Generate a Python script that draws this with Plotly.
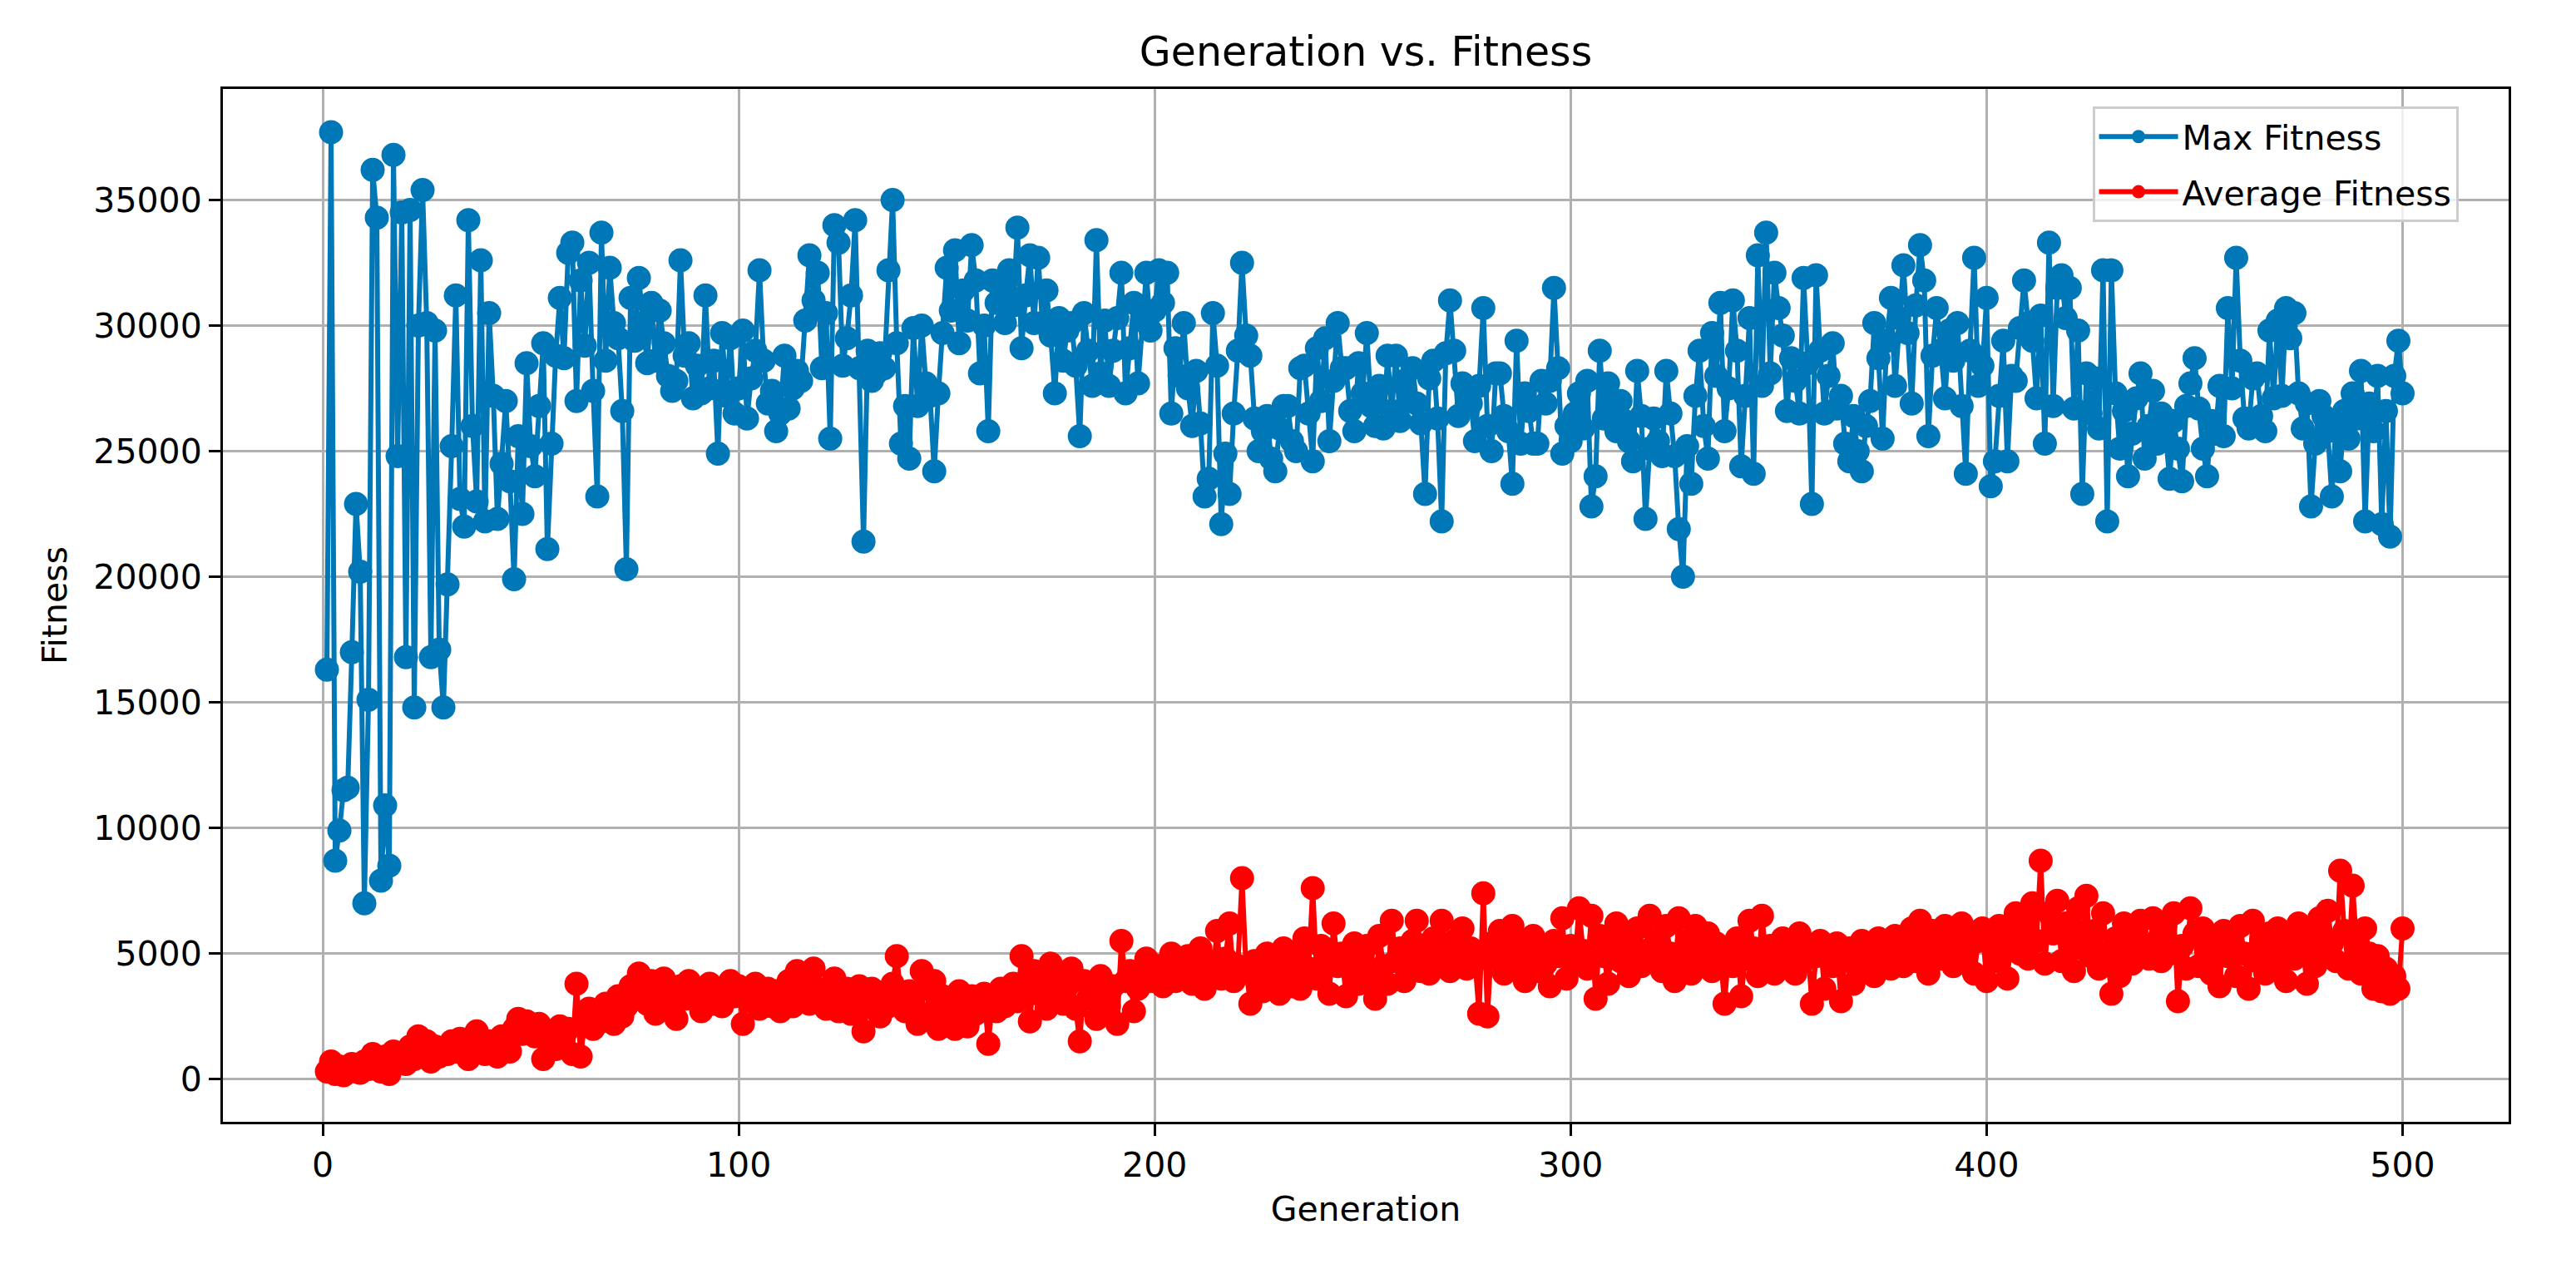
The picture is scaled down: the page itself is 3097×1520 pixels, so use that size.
import plotly.graph_objects as go

max_fitness = [
    16300, 37700, 8700, 9900, 11500, 11600, 17000, 22900, 20200, 7000,
    15100, 36200, 34300, 7900, 10900, 8500, 36800, 24800, 34500, 16800,
    34600, 14800, 30000, 35400, 30100, 16800, 29800, 17100, 14800, 19700,
    25200, 31200, 23100, 22000, 34200, 26000, 23000, 32600, 22200, 30500,
    27200, 22300, 24500, 27000, 23800, 19900, 25600, 22500, 28500, 25200,
    24000, 26800, 29300, 21100, 25300, 28800, 31100, 28700, 32900, 33300,
    27000, 31800, 29200, 32500, 27400, 23200, 33700, 28600, 32300, 30100,
    29500, 26600, 20300, 31100, 29400, 31900, 30100, 28500, 30900, 28600,
    30600, 29300, 28000, 27400, 27800, 32600, 28800, 29300, 27100, 28400,
    27300, 31200, 27500, 28600, 24900, 29700, 27200, 29500, 26500, 27500,
    29800, 26300, 27900, 29000, 32200, 28600, 26900, 27400, 25800, 26500,
    28800, 26700, 27500, 28200, 27800, 30200, 32800, 31000, 32100, 28300,
    30500, 25500, 34000, 33300, 28400, 29500, 31200, 34200, 28300, 21400,
    29000, 27800, 28100, 28900, 28300, 32200, 35000, 29300, 25300, 26800,
    24700, 29900, 26800, 30000, 27700, 27200, 24200, 27300, 29700, 32300,
    30600, 33000, 29300, 31400, 30200, 33200, 31800, 28100, 30000, 25800,
    31800, 30900, 31500, 30100, 32200, 30800, 33900, 29100, 31200, 32800,
    30100, 32700, 30100, 31400, 29600, 27300, 30300, 28600, 29800, 30100,
    28400, 25600, 30500, 29000, 27600, 33400, 28100, 30200, 27600, 29000,
    30300, 32100, 27300, 29100, 30900, 27700, 30200, 32100, 29800, 30600,
    32200, 30900, 32100, 26500, 29100, 28000, 30100, 27500, 26000, 28200,
    26100, 23200, 23900, 30500, 28400, 22100, 24900, 23300, 26500, 29000,
    32500, 29600, 28800, 26300, 25000, 25800, 26400, 24700, 24200, 25900,
    26800, 26800, 25400, 25000, 28300, 28400, 26500, 24600, 29100, 27000,
    29500, 25400, 27800, 30100, 28300, 28300, 26600, 25800, 28500, 27300,
    29700, 26800, 26000, 27600, 25900, 28800, 26600, 28800, 26200, 27800,
    27000, 28300, 26900, 26100, 23300, 27900, 28600, 26300, 22200, 28900,
    31000, 29000, 26400, 27700, 26900, 26900, 25400, 27600, 30700, 26000,
    25000, 28100, 28100, 26400, 25800, 23700, 29400, 25300, 27300, 26600,
    25300, 25300, 27800, 26900, 27800, 31500, 28300, 24900, 26000, 25400,
    26500, 27300, 25900, 27800, 22800, 24000, 29000, 26300, 27700, 26800,
    25800, 27000, 26200, 25400, 24600, 28200, 26400, 22300, 25100, 26300,
    25400, 24800, 28200, 26500, 24800, 21900, 20000, 25200, 23700, 27200,
    29000, 26000, 24700, 29700, 28000, 30900, 25800, 27500, 31000, 29000,
    24400, 27200, 30300, 24100, 32800, 27600, 33700, 28100, 32100, 30700,
    29600, 26600, 28700, 27800, 26500, 31900, 28500, 22900, 32000, 29000,
    26500, 28000, 29300, 26700, 27200, 25300, 24600, 26400, 25000, 24200,
    26000, 27000, 30100, 28700, 25500, 29400, 31100, 27600, 30300, 32400,
    29700, 26900, 30800, 33200, 31800, 25600, 28800, 30700, 29000, 27100,
    29800, 28600, 30100, 26800, 24100, 29000, 32700, 27600, 28400, 31100,
    23600, 24600, 27200, 29400, 24600, 28000, 27800, 29900, 31800, 30100,
    29400, 27100, 30400, 25300, 33300, 26800, 31500, 32000, 30300, 31500,
    26700, 29800, 23300, 28100, 26500, 27900, 25900, 32200, 22200, 32200,
    27300, 25100, 26600, 24000, 25700, 27100, 28100, 24700, 26000, 27400,
    25300, 26500, 25700, 23900, 26200, 25100, 23800, 26800, 27700, 28700,
    26700, 25100, 24000, 26200, 25700, 27600, 25600, 30700, 27500, 32700,
    28600, 26300, 25900, 27900, 28100, 26400, 25800, 29800, 27100, 30200,
    27200, 30700, 29500, 30500, 27300, 25900, 26900, 22800, 25300, 27000,
    26400, 25800, 23200, 26100, 24200, 26600, 25500, 27300, 26300, 28200,
    22200, 26900, 25800, 28000, 22100, 26600, 21600, 28000, 29400, 27300,
]

average_fitness = [
    300, 700, 200, 500, 150, 400, 600, 300, 250, 700,
    400, 1000, 600, 300, 900, 200, 1100, 700, 1000, 600,
    1300, 800, 1700, 1100, 1500, 700, 1300, 900, 1200, 1000,
    1500, 1100, 1600, 1400, 800, 1200, 1900, 1300, 1000, 1500,
    1200, 900, 1700, 1400, 1100, 2000, 2400, 1800, 2300, 2100,
    1700, 2200, 800, 1500, 1900, 1200, 2100, 1700, 2000, 1000,
    3800, 900, 2300, 2800, 2000, 2600, 2300, 3000, 2700, 2200,
    3300, 2500, 2900, 3700, 3200, 4200, 3500, 3000, 3900, 2600,
    3600, 4000, 2900, 3400, 2400, 3700, 3200, 3900, 3600, 3100,
    2700, 3400, 3800, 3000, 3500, 2900, 3600, 3900, 3300, 3700,
    2200, 3400, 3100, 3800, 2800, 3300, 3600, 2900, 3500, 2700,
    3200, 3900, 2900, 4300, 3400, 3700, 3000, 4400, 3600, 3100,
    2800, 3500, 4000, 2700, 3200, 3600, 2600, 3300, 3700, 1900,
    2900, 3600, 3100, 2500, 3400, 2900, 3800, 4900, 3300, 2700,
    3500, 3000, 2200, 4300, 3600, 2600, 3900, 2000, 3300, 2400,
    3100, 2000, 3500, 2800, 2100, 3300, 2600, 3000, 3400, 1400,
    3100, 2700, 3600, 2900, 3300, 3800, 3100, 4900, 3600, 2300,
    4300, 3400, 4000, 2800, 4600, 3600, 4200, 3000, 3700, 4400,
    2800, 1500, 3900, 3200, 3800, 2400, 4100, 3400, 2900, 3700,
    2200, 5500, 3900, 4300, 2700, 3600, 4100, 4800, 3900, 4300,
    4500, 3700, 4300, 5000, 3900, 4600, 4100, 4900, 3800, 4400,
    5200, 3600, 4700, 4200, 5900, 4000, 4800, 6200, 3900, 4500,
    8000, 4300, 3000, 4700, 4100, 3500, 5000, 3800, 4600, 3400,
    5200, 4200, 3700, 4800, 3600, 5600, 4400, 7600, 4000, 5300,
    4700, 3400, 6200, 4500, 5000, 3300, 4600, 5400, 3800, 4900,
    5300, 4100, 3200, 5700, 4500, 3800, 6300, 4700, 5200, 3900,
    4800, 5500, 6300, 4300, 5000, 4200, 5600, 4600, 6300, 5100,
    4300, 5500, 4900, 6000, 4400, 5200, 4700, 2600, 7400, 2500,
    5400, 4800, 5900, 4200, 5100, 6100, 4500, 5300, 3900, 4900,
    5700, 4300, 5200, 4600, 3700, 5500, 4900, 6400, 4000, 5300,
    4600, 6800, 5100, 4400, 6500, 3200, 5700, 4900, 3800, 5400,
    6200, 4700, 5800, 4100, 5300, 6000, 4500, 5100, 6500, 4800,
    5600, 4300, 6100, 5000, 3900, 6400, 4700, 5500, 4200, 6100,
    5200, 4600, 5800, 4300, 5400, 4900, 3000, 5100, 4500, 5600,
    3300, 4800, 6300, 5200, 4100, 6500, 4800, 5300, 4200, 5000,
    5600, 4600, 5100, 4200, 5800, 4700, 5300, 3000, 4900, 5500,
    3600, 5100, 4500, 5400, 3100, 4800, 5200, 3800, 4400, 5500,
    4700, 5300, 4100, 5600, 4900, 5200, 4400, 5700, 5000, 4500,
    5400, 6000, 4700, 6300, 5100, 4200, 5900, 5400, 4800, 6100,
    5200, 4500, 5700, 6200, 4900, 5800, 4200, 5500, 6000, 3900,
    5900, 4700, 6100, 5300, 4000, 5800, 6600, 5000, 6300, 4800,
    7000, 5500, 8700, 4600, 6600, 5800, 7100, 4700, 6200, 5500,
    4300, 6800, 5200, 7300, 4900, 5900, 4400, 6600, 5000, 3400,
    5600, 4100, 6200, 5100, 4600, 5900, 6300, 5200, 4800, 6400,
    5500, 4700, 6100, 5000, 6600, 3100, 5300, 4400, 6800, 5800,
    4500, 6000, 5200, 4200, 5600, 3700, 5900, 4900, 5400, 4100,
    6100, 5000, 3600, 6300, 4700, 5500, 4200, 5800, 4600, 6000,
    5100, 3900, 5600, 4800, 6200, 5300, 3800, 5700, 4500, 6400,
    5000, 6700, 5400, 4700, 8300, 5900, 4400, 7700, 5200, 4200,
    6000, 5000, 3600, 4900, 3500, 4400, 3400, 4100, 3600, 6000,
]

generations = list(range(1, len(max_fitness) + 1))
x_ticks = [0, 100, 200, 300, 400, 500]
y_ticks = [0, 5000, 10000, 15000, 20000, 25000, 30000, 35000]

BLUE = "#0077b6"
RED = "#ff0000"
FONT = "DejaVu Sans"

fig = go.Figure()
fig.add_trace(go.Scatter(
    x=generations, y=max_fitness, mode="lines+markers", name="Max Fitness",
    line=dict(color=BLUE, width=6), marker=dict(color=BLUE, size=29),
    legendgroup="a",
))
fig.add_trace(go.Scatter(
    x=generations, y=average_fitness, mode="lines+markers", name="Average Fitness",
    line=dict(color=RED, width=6), marker=dict(color=RED, size=29),
    legendgroup="b",
))

axis_common = dict(
    showline=True, linecolor="black", linewidth=3, mirror=True,
    ticks="outside", ticklen=14, tickwidth=3, tickcolor="black",
    showgrid=True, gridcolor="#b0b0b0", gridwidth=3, zeroline=False,
    tickfont=dict(family=FONT, size=41, color="black"),
)

fig.update_layout(
    width=3097, height=1520,
    margin=dict(l=268, r=81, t=107, b=171, pad=0),
    paper_bgcolor="white", plot_bgcolor="white",
    font=dict(family=FONT, size=41, color="black"),
    title=dict(text="Generation vs. Fitness", x=0.5, xref="paper", xanchor="center",
               y=1 - 62 / 1520, yref="container", yanchor="middle",
               font=dict(family=FONT, size=49, color="black")),
    showlegend=True,
    legend=dict(
        x=0.978, y=0.983, xanchor="right", yanchor="top",
        bgcolor="rgba(255,255,255,0.8)", bordercolor="#cccccc", borderwidth=3,
        font=dict(family=FONT, size=41, color="black"),
        traceorder="grouped", tracegroupgap=10, itemwidth=95,
    ),
)

fig.update_xaxes(range=[-24, 525.5], tickvals=x_ticks, ticktext=[str(v) for v in x_ticks],
                 title=dict(text="Generation", font=dict(family=FONT, size=41, color="black"), standoff=16),
                 **axis_common)
fig.update_yaxes(range=[-1700, 39420], tickvals=y_ticks, ticktext=[str(v) for v in y_ticks],
                 title=dict(text="Fitness", font=dict(family=FONT, size=41, color="black"), standoff=20),
                 **axis_common)

fig.write_html("out.html", config={"displayModeBar": False},
               post_script="document.body.style.margin='0';document.body.style.overflow='hidden';")
